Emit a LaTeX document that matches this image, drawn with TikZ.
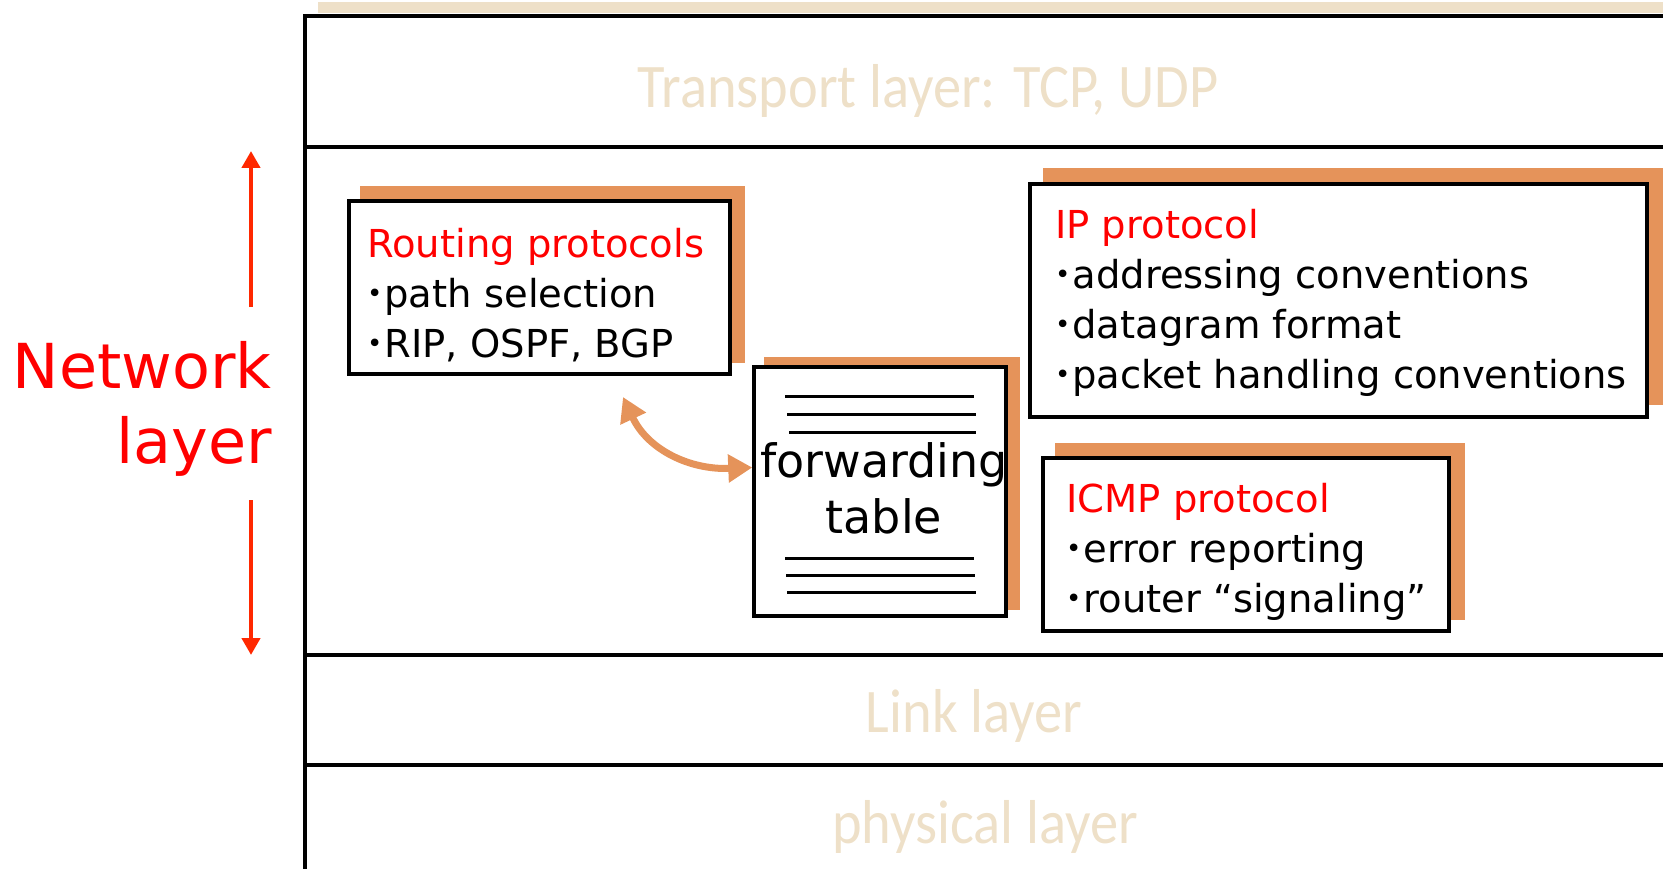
\documentclass[tikz,border=0pt]{standalone}
\usepackage{fontspec}
\setmainfont{DejaVu Sans}
\newfontfamily\layerfont[FakeStretch=0.91]{Carlito}
\usetikzlibrary{arrows.meta,backgrounds}
\definecolor{beige}{RGB}{238,224,200}
\definecolor{shadowc}{RGB}{229,147,90}
\definecolor{netred}{RGB}{255,40,0}
\newcommand{\mybul}{{\fontsize{26}{26}\selectfont\raisebox{5pt}{•}}\hspace{2pt}}
\tikzset{
  frameline/.style={line width=3.5pt, line cap=rect},
  protobox/.style={draw=black, fill=white, line width=3.5pt, inner sep=0pt},
  prototext/.style={inner sep=0pt, align=left, anchor=base west, font=\fontsize{38.5}{50}\selectfont},
  layertext/.style={inner sep=0pt, anchor=base, text=beige, font=\layerfont\fontsize{62}{70}\selectfont},
  tableline/.style={line width=3pt},
  redarrow/.style={draw=netred, line width=4.5pt, -{Triangle[length=17pt,width=18pt]}},
  orangearrow/.style={draw=shadowc, line width=7pt, {Triangle[length=24pt,width=27pt]}-{Triangle[length=24pt,width=27pt]}},
}
\begin{document}
\begin{tikzpicture}[x=1pt,y=-1pt]
\useasboundingbox (0,0) rectangle (1663,869);
% top band and frame
\fill[beige] (318,2) rectangle (1663,13);
\draw[frameline] (305,16) -- (1663,16);
\draw[frameline] (305,16) -- (305,871);
\draw[frameline] (305,147) -- (1663,147);
\draw[frameline] (305,655) -- (1663,655);
\draw[frameline] (305,765) -- (1663,765);
% layer labels
\node[layertext] (transport) at (928,108) {Transport layer: TCP, UDP};
\node[layertext] (link) at (974,732) {Link layer};
\node[layertext] (phys) at (985,843) {physical layer};
% network layer label
\node[inner sep=0pt, align=right, anchor=base east, text=red, font=\fontsize{62}{75}\selectfont] (net) at (272,463) {Network\\layer};
\coordinate (upA) at (251,307);
\coordinate (upB) at (251,151);
\coordinate (dnA) at (251,500);
\coordinate (dnB) at (251,655);
\draw[redarrow] (upA) -- (upB);
\draw[redarrow] (dnA) -- (dnB);
% boxes
\node[protobox, minimum width=381pt, minimum height=173pt] (rt) at (539.5,287.5) {};
\node[protobox, minimum width=252pt, minimum height=249pt] (fwd) at (880,491.5) {};
\node[protobox, minimum width=617pt, minimum height=233pt] (ip) at (1338.5,300.5) {};
\node[protobox, minimum width=406pt, minimum height=173pt] (icmp) at (1246,544.5) {};
\begin{scope}[on background layer]
\fill[shadowc] ([shift={(13pt,13pt)}]rt.south west) rectangle ([shift={(13pt,13pt)}]rt.north east);
\fill[shadowc] ([shift={(12pt,8pt)}]fwd.south west) rectangle ([shift={(12pt,8pt)}]fwd.north east);
\fill[shadowc] ([shift={(15pt,14pt)}]ip.south west) rectangle ([shift={(15pt,14pt)}]ip.north east);
\fill[shadowc] ([shift={(14pt,13pt)}]icmp.south west) rectangle ([shift={(14pt,13pt)}]icmp.north east);
\end{scope}
% texts (base anchor = baseline of last line)
\node[prototext] (rtt) at (367,357) {\textcolor{red}{Routing protocols}\\\mybul path selection\\\mybul RIP, OSPF, BGP};
\node[prototext] (ipt) at (1055,388) {\textcolor{red}{IP protocol}\\\mybul addressing conventions\\\mybul datagram format\\\mybul packet handling conventions};
\node[prototext] (icmpt) at (1066,612) {\textcolor{red}{ICMP protocol}\\\mybul error reporting\\\mybul router “signaling”};
\node[inner sep=0pt, align=center, anchor=base, font=\fontsize{46}{56}\selectfont] (fwdt) at (884,533) {forwarding\\table};
% table lines
\draw[tableline] (785,396) -- (974,396);
\draw[tableline] (787,414) -- (976,414);
\draw[tableline] (789,432) -- (976,432);
\draw[tableline] (785,558) -- (974,558);
\draw[tableline] (786,575) -- (975,575);
\draw[tableline] (787,592) -- (976,592);
% curved arrow
\coordinate (arrS) at (623,397);
\draw[orangearrow] (arrS) .. controls (648,450) and (690,470) .. ([yshift=24pt]fwd.west);
\end{tikzpicture}
\end{document}
